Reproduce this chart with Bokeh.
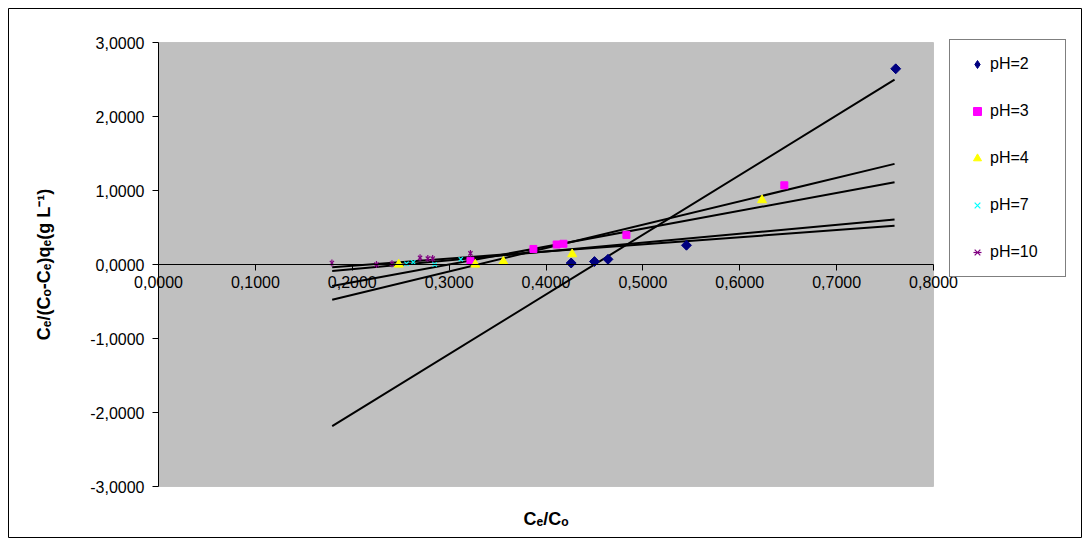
import numpy as np
from bokeh.plotting import figure
from bokeh.models import (Range1d, FixedTicker, Legend, LegendItem, LinearAxis,
                          BoxAnnotation, Label)
from bokeh.embed import file_html
from bokeh.resources import INLINE

# ---------------- data ----------------
series_names = ["pH=2", "pH=3", "pH=4", "pH=7", "pH=10"]

ph2_x = [0.426, 0.450, 0.464, 0.545, 0.761]
ph2_y = [0.02, 0.04, 0.07, 0.26, 2.645]

ph3_x = [0.322, 0.387, 0.411, 0.418, 0.483, 0.646]
ph3_y = [0.05, 0.21, 0.27, 0.28, 0.40, 1.07]

ph4_x = [0.248, 0.327, 0.356, 0.427, 0.623]
ph4_y = [0.00, 0.00, 0.04, 0.14, 0.87]

ph7_x = [0.256, 0.263, 0.285, 0.312]
ph7_y = [0.01, 0.03, 0.00, 0.07]

ph10_x = [0.179, 0.225, 0.241, 0.270, 0.278, 0.283, 0.322]
ph10_y = [0.02, 0.00, 0.01, 0.09, 0.08, 0.08, 0.15]

# linear trend lines (slope, intercept) per series, and their x extent
trend_slope = [8.067, 3.161, 2.417, 1.2005, 0.9615]
trend_intercept = [-3.631, -1.042, -0.725, -0.304, -0.208]
trend_x_min = 0.1793
trend_x_max = 0.7598

x_ticks = [0.0, 0.1, 0.2, 0.3, 0.4, 0.5, 0.6, 0.7, 0.8]
x_tick_labels = ["0,0000", "0,1000", "0,2000", "0,3000", "0,4000",
                 "0,5000", "0,6000", "0,7000", "0,8000"]
y_ticks = [-3, -2, -1, 0, 1, 2, 3]
y_tick_labels = ["-3,0000", "-2,0000", "-1,0000", "0,0000",
                 "1,0000", "2,0000", "3,0000"]

x_title = "C\u2091/C\u2092"
y_title = "C\u2091/(C\u2092-C\u2091)q\u2091(g L\u207b\u00b9)"

FONT = "Liberation Sans"

# ---------------- figure ----------------
# the frame covers the whole canvas; the plot area (gray) is x 0..0.8, y -3..3
W, H = 1074, 530
PX_X = 968.75      # pixels per x unit
PX_Y = 74.0        # pixels per y unit
X0_PX, Y0_PX = 150, 256
p = figure(width=W, height=H, output_backend="svg", toolbar_location=None,
           x_axis_type=None, y_axis_type=None,
           x_range=Range1d(-X0_PX / PX_X, (W - X0_PX) / PX_X),
           y_range=Range1d(-(H - Y0_PX) / PX_Y, Y0_PX / PX_Y),
           min_border=0,
           background_fill_color="white", border_fill_color="white",
           outline_line_color="black", outline_line_width=1)
p.margin = (8, 8, 8, 8)
p.grid.visible = False

p.add_layout(BoxAnnotation(left=min(x_ticks), right=max(x_ticks),
                           bottom=min(y_ticks), top=max(y_ticks),
                           fill_color="#C0C0C0", fill_alpha=1,
                           line_color="#808080", line_width=1,
                           level="underlay"))

# x axis crossing at y = 0
xa = LinearAxis(fixed_location=0, bounds=(min(x_ticks), max(x_ticks)),
                ticker=FixedTicker(ticks=x_ticks),
                major_label_overrides={t: l for t, l in zip(x_ticks, x_tick_labels)},
                major_tick_out=6, major_tick_in=0,
                minor_tick_line_color=None,
                axis_line_color="black", major_tick_line_color="black",
                major_label_text_font=FONT, major_label_text_font_size="16px",
                major_label_text_color="black", major_label_standoff=5)
p.add_layout(xa, "below")

ya = LinearAxis(fixed_location=0, bounds=(min(y_ticks), max(y_ticks)),
                ticker=FixedTicker(ticks=y_ticks),
                major_label_overrides={t: l for t, l in zip(y_ticks, y_tick_labels)},
                major_tick_out=6, major_tick_in=0,
                minor_tick_line_color=None,
                axis_line_color="black", major_tick_line_color="black",
                major_label_text_font=FONT, major_label_text_font_size="16px",
                major_label_text_color="black", major_label_standoff=8)
p.add_layout(ya, "left")

p.add_layout(Label(x=(35 - X0_PX) / PX_X, y=0, text=y_title, angle=np.pi / 2,
                   text_align="center", text_baseline="middle",
                   text_font=FONT, text_font_size="18px", text_font_style="bold",
                   text_color="black"))
p.add_layout(Label(x=0.4, y=(Y0_PX - 510) / PX_Y, text=x_title,
                   text_align="center", text_baseline="middle",
                   text_font=FONT, text_font_size="18px", text_font_style="bold",
                   text_color="black"))

# ---------------- trend lines ----------------
for s, b in zip(trend_slope, trend_intercept):
    xs = np.array([trend_x_min, trend_x_max])
    p.line(xs, s * xs + b, line_color="black", line_width=2)

# ---------------- markers ----------------
# diamond glyph used for the legend swatch (hidden under the rotated squares)
r2_leg = p.scatter(ph2_x, ph2_y, marker="diamond", size=9,
                   fill_color="#000080", line_color="#000080")
r2 = p.scatter(ph2_x, ph2_y, marker="square", angle=np.pi / 4, size=7,
               fill_color="#000080", line_color="#000080")
r3 = p.scatter(ph3_x, ph3_y, marker="square", size=7,
               fill_color="#FF00FF", line_color="#FF00FF")
r4 = p.scatter(ph4_x, ph4_y, marker="triangle", size=9,
               fill_color="#FFFF00", line_color="#FFFF00")
r7 = p.scatter(ph7_x, ph7_y, marker="x", size=6,
               line_color="#00FFFF", line_width=1.2)
r10a = p.scatter(ph10_x, ph10_y, marker="x", size=6,
                 line_color="#800080", line_width=1.2)
r10b = p.scatter(ph10_x, ph10_y, marker="dash", angle=np.pi / 2, size=7,
                 line_color="#800080", line_width=1.2)

legend = Legend(items=[
    LegendItem(label=series_names[0], renderers=[r2_leg]),
    LegendItem(label=series_names[1], renderers=[r3]),
    LegendItem(label=series_names[2], renderers=[r4]),
    LegendItem(label=series_names[3], renderers=[r7]),
    LegendItem(label=series_names[4], renderers=[r10a, r10b]),
], location=(941, 261), orientation="vertical",
    padding=14, spacing=27, glyph_width=26, glyph_height=20,
    label_height=20, label_width=61, label_standoff=0,
    label_text_font=FONT, label_text_font_size="16px",
    label_text_color="black",
    border_line_color="black", border_line_width=1,
    background_fill_color="white", background_fill_alpha=1,
    margin=0)
p.add_layout(legend, "center")

open("out.html", "w").write(file_html(p, INLINE))
